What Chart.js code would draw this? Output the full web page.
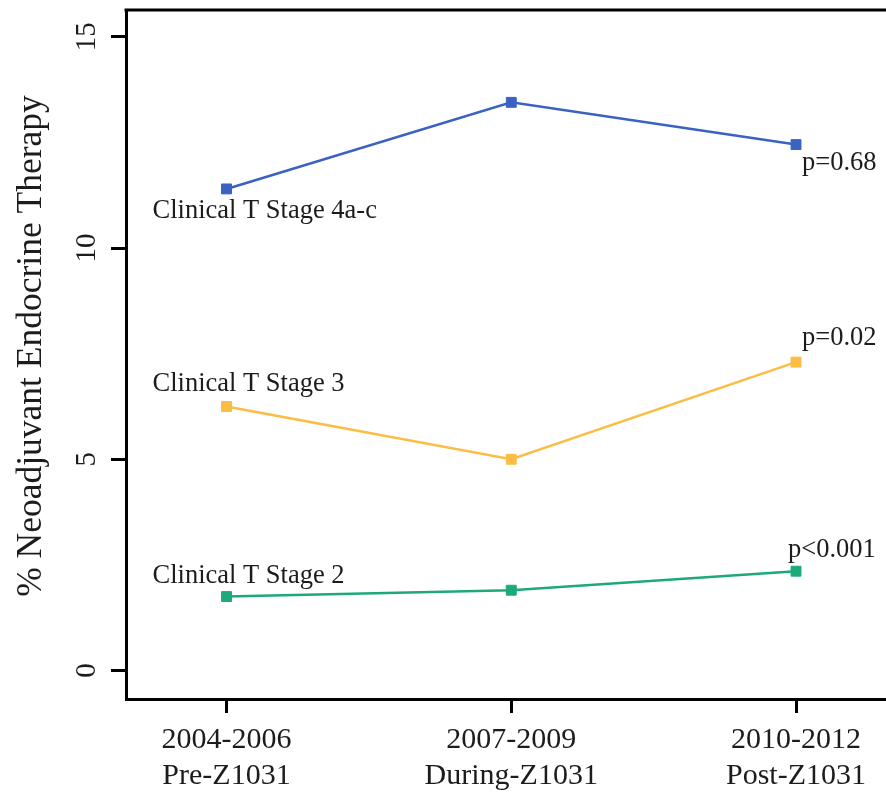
<!DOCTYPE html>
<html>
<head>
<meta charset="utf-8">
<script src="https://cdn.jsdelivr.net/npm/chart.js@4/dist/chart.umd.min.js"></script>
<style>
  html, body { margin: 0; padding: 0; background: #fff; }
  #wrap { width: 886px; height: 797px; position: relative; }
</style>
</head>
<body>
<div id="wrap"><canvas id="c" width="886" height="797"></canvas></div>
<script>
// Study periods (x axis, two-line tick labels)
const periods = ['2004-2006', '2007-2009', '2010-2012'];
const phases = ['Pre-Z1031', 'During-Z1031', 'Post-Z1031'];

// % receiving neoadjuvant endocrine therapy, by clinical T stage
const stage4 = [11.4, 13.45, 12.45];
const stage3 = [6.25, 5.0, 7.3];
const stage2 = [1.75, 1.9, 2.35];

const seriesNames = ['Clinical T Stage 4a-c', 'Clinical T Stage 3', 'Clinical T Stage 2'];
const pValues = ['p=0.68', 'p=0.02', 'p<0.001'];

// Y axis ticks and title
const yTicks = [0, 5, 10, 15];
const yTitle = '% Neoadjuvant Endocrine Therapy';

const SERIF = '"Liberation Serif", "Times New Roman", serif';
const INK = '#1c1c1c';

const colors = ['#3a62c2', '#fbbd43', '#1daa78'];
const allSeries = [stage4, stage3, stage2];

function toPoints(arr) {
  return arr.map((v, i) => ({ x: i, y: v }));
}

// name label: offset from first point; p-value: offset from last point
const labelOffsets = [
  { name: [-74, 29], p: [6, 25] },
  { name: [-74, -15], p: [6, -17] },
  { name: [-74, -14], p: [-8, -14] }
];

const annotate = {
  id: 'annotate',
  afterDatasetsDraw(chart) {
    const { ctx, chartArea, scales } = chart;
    ctx.save();
    // top edge of plot box
    ctx.strokeStyle = '#000';
    ctx.lineWidth = 3;
    ctx.beginPath();
    ctx.moveTo(chartArea.left - 1.5, chartArea.top);
    ctx.lineTo(chartArea.right + 10, chartArea.top);
    ctx.stroke();

    ctx.fillStyle = INK;
    ctx.font = '26.5px ' + SERIF;
    ctx.textBaseline = 'alphabetic';
    ctx.textAlign = 'left';
    allSeries.forEach((arr, k) => {
      const off = labelOffsets[k];
      const x0 = scales.x.getPixelForValue(0);
      const y0 = scales.y.getPixelForValue(arr[0]);
      ctx.fillText(seriesNames[k], x0 + off.name[0], y0 + off.name[1]);
      const last = arr.length - 1;
      const x1 = scales.x.getPixelForValue(last);
      const y1 = scales.y.getPixelForValue(arr[last]);
      ctx.fillText(pValues[k], x1 + off.p[0], y1 + off.p[1]);
    });

    // y axis title, rotated
    ctx.translate(41, 346);
    ctx.rotate(-Math.PI / 2);
    ctx.font = '35.5px ' + SERIF;
    ctx.textAlign = 'center';
    ctx.fillText(yTitle, 0, 0);
    ctx.restore();
  }
};

new Chart(document.getElementById('c'), {
  type: 'line',
  data: {
    datasets: allSeries.map((arr, k) => ({
      label: seriesNames[k],
      data: toPoints(arr),
      borderColor: colors[k],
      backgroundColor: colors[k],
      borderWidth: 2.5,
      pointStyle: 'rect',
      pointRadius: 7,
      pointBorderWidth: 1,
      pointHoverRadius: 7,
      tension: 0
    }))
  },
  options: {
    responsive: false,
    animation: false,
    events: [],
    layout: { autoPadding: false, padding: { top: 10, right: 0, bottom: 0, left: 0 } },
    plugins: { legend: { display: false }, tooltip: { enabled: false } },
    scales: {
      x: {
        type: 'linear',
        min: -0.353,
        max: 2.316,
        afterBuildTicks(scale) { scale.ticks = periods.map((_, i) => ({ value: i })); },
        afterFit(scale) {
          scale.height = 98;
          scale.paddingLeft = 0; scale.paddingRight = 0;
          scale.paddingTop = 0; scale.paddingBottom = 0;
        },
        grid: { drawOnChartArea: false, drawTicks: true, tickLength: 14, lineWidth: 3, color: '#000' },
        border: { display: true, width: 3, color: '#000' },
        ticks: {
          autoSkip: false,
          maxRotation: 0,
          padding: 10,
          color: INK,
          font: { family: SERIF, size: 30, lineHeight: 1.17 },
          callback: (v) => [periods[v], phases[v]]
        }
      },
      y: {
        min: -0.675,
        max: 15.636,
        afterBuildTicks(scale) { scale.ticks = yTicks.map(v => ({ value: v })); },
        afterFit(scale) {
          scale.width = 126;
          scale.paddingLeft = 0; scale.paddingRight = 0;
          scale.paddingTop = 0; scale.paddingBottom = 0;
        },
        grid: { drawOnChartArea: false, drawTicks: true, tickLength: 15, lineWidth: 3, color: '#000' },
        border: { display: true, width: 3, color: '#000' },
        ticks: {
          minRotation: 90,
          maxRotation: 90,
          crossAlign: 'center',
          padding: 9,
          color: INK,
          font: { family: SERIF, size: 29 }
        }
      }
    }
  },
  plugins: [annotate]
});
</script>
</body>
</html>
